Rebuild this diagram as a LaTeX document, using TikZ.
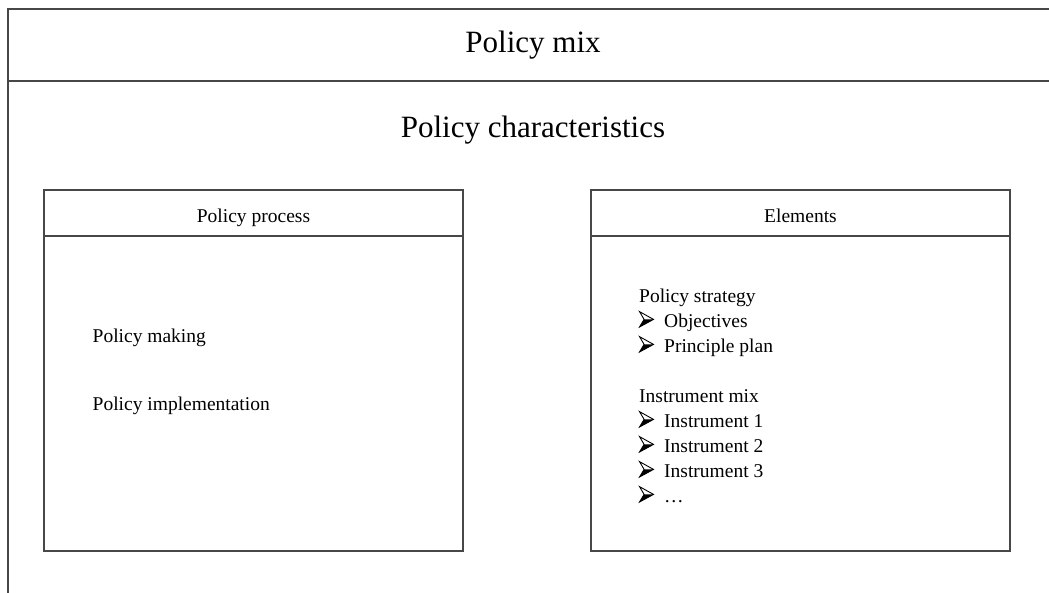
\documentclass[tikz,border=0pt]{standalone}
\usepackage{fontspec}
\setmainfont{Liberation Serif}
\begin{document}
\begin{tikzpicture}[x=1pt,y=-1pt,
  frame/.style={draw=black!72, line width=1.3pt},
  panel/.style={frame, inner sep=0pt, outer sep=0pt, anchor=north west,
                minimum width=419pt, minimum height=361pt},
  bigtext/.style={font=\fontsize{31}{37}\selectfont, inner sep=0pt, anchor=base},
  headtext/.style={font=\fontsize{19.5}{24}\selectfont, inner sep=0pt, anchor=base},
  bodytext/.style={font=\fontsize{19.5}{24}\selectfont, inner sep=0pt, anchor=base west},
  % three-dimensional arrowhead bullet, sitting on the text baseline
  arrowbullet/.pic={
    \fill[black] (0,0) -- (4.6,-7.6) -- (14,-7.6) -- cycle;
    \draw[line width=0.9pt, line join=miter] (0,0) -- (14,-7.6) -- (0,-15.4) -- (4.6,-7.6) -- cycle;
  },
]
\useasboundingbox (0,0) rectangle (1049,592);
\clip (0,0) rectangle (1049,592);
\fill[white] (0,0) rectangle (1049,592);

% outer frame with its title band (runs off the page to the right and below)
\draw[frame] (1070,9) -- (8,9) -- (8,610);
\draw[frame] (8,81) -- (1070,81);
\node[bigtext] (mix) at (533,52) {Policy mix};
\node[bigtext] (charac) at (533,137) {Policy characteristics};

% the two panels
\node[panel] (proc) at (44,190) {};
\node[panel] (elem) at (591,190) {};
\coordinate (headline) at (0,236);
\draw[frame] (proc.west |- headline) -- (proc.east |- headline);
\draw[frame] (elem.west |- headline) -- (elem.east |- headline);

\node[headtext] (prochead) at (253.5,222) {Policy process};
\node[headtext] (elemhead) at (800.5,222) {Elements};

% policy process panel
\node[bodytext] (making) at (92.5,342) {Policy making};
\node[bodytext] (impl) at (92.5,410) {Policy implementation};

% elements panel
\node[bodytext] (strategy) at (639,302) {Policy strategy};
\pic at (639.5,327) {arrowbullet};
\node[bodytext] (obj) at (664,327) {Objectives};
\pic at (639.5,352) {arrowbullet};
\node[bodytext] (plan) at (664,352) {Principle plan};
\node[bodytext] (instmix) at (639,402) {Instrument mix};
\pic at (639.5,427) {arrowbullet};
\node[bodytext] (inst1) at (664,427) {Instrument 1};
\pic at (639.5,452) {arrowbullet};
\node[bodytext] (inst2) at (664,452) {Instrument 2};
\pic at (639.5,477) {arrowbullet};
\node[bodytext] (inst3) at (664,477) {Instrument 3};
\pic at (639.5,502) {arrowbullet};
\node[bodytext] (more) at (664,502) {…};
\end{tikzpicture}
\end{document}
